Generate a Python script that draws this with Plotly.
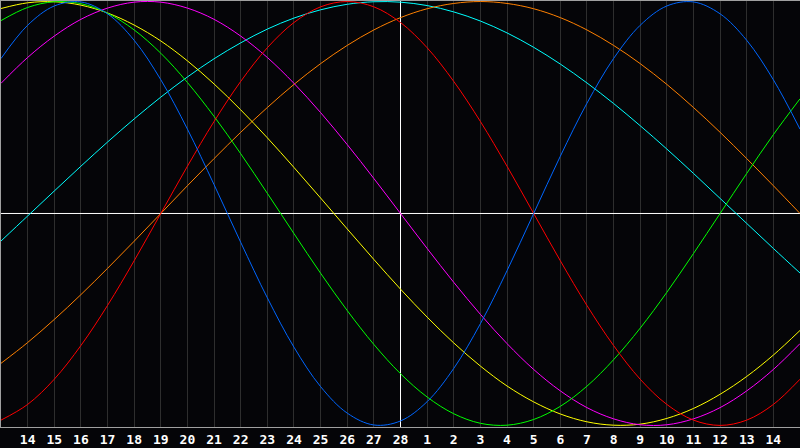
'''
Biorhythm chart: seven cycles over a 30 day window centred on the 28th.
'''
import plotly.graph_objects as go

# Day index 0..30 (0 = the 13th), tick labels for the marked days
days = list(range(31))
tick_days = list(range(1, 30))
tick_labels = ['14', '15', '16', '17', '18', '19', '20', '21', '22', '23',
               '24', '25', '26', '27', '28', '1', '2', '3', '4', '5', '6',
               '7', '8', '9', '10', '11', '12', '13', '14']
today = 15

# Cycle values, one per day
physical = [0.731, 0.888, 0.979, 0.998, 0.942, 0.817, 0.631, 0.398, 0.136,
            -0.136, -0.398, -0.631, -0.817, -0.942, -0.998, -0.979, -0.888,
            -0.731, -0.520, -0.270, 0.0, 0.270, 0.520, 0.731, 0.888, 0.979,
            0.998, 0.942, 0.817, 0.631, 0.398]
emotional = [-0.975, -0.901, -0.782, -0.623, -0.434, -0.223, 0.0, 0.223,
             0.434, 0.623, 0.782, 0.901, 0.975, 1.0, 0.975, 0.901, 0.782,
             0.623, 0.434, 0.223, 0.0, -0.223, -0.434, -0.623, -0.782,
             -0.901, -0.975, -1.0, -0.975, -0.901, -0.782]
intellectual = [0.910, 0.972, 0.999, 0.990, 0.945, 0.866, 0.756, 0.618,
                0.458, 0.282, 0.095, -0.095, -0.282, -0.458, -0.618, -0.756,
                -0.866, -0.945, -0.990, -0.999, -0.972, -0.910, -0.815,
                -0.690, -0.541, -0.372, -0.189, 0.0, 0.189, 0.372, 0.541]
intuitive = [0.614, 0.736, 0.837, 0.916, 0.969, 0.997, 0.997, 0.969, 0.916,
             0.837, 0.736, 0.614, 0.476, 0.325, 0.165, 0.0, -0.165, -0.325,
             -0.476, -0.614, -0.736, -0.837, -0.916, -0.969, -0.997, -0.997,
             -0.969, -0.916, -0.837, -0.736, -0.614]
aesthetic = [0.967, 0.994, 0.999, 0.983, 0.946, 0.889, 0.814, 0.720, 0.611,
             0.489, 0.357, 0.217, 0.073, -0.073, -0.217, -0.357, -0.489,
             -0.611, -0.720, -0.814, -0.889, -0.946, -0.983, -0.999, -0.994,
             -0.967, -0.920, -0.853, -0.769, -0.668, -0.552]
awareness = [-0.707, -0.609, -0.5, -0.383, -0.259, -0.131, 0.0, 0.131, 0.259,
             0.383, 0.5, 0.609, 0.707, 0.793, 0.866, 0.924, 0.966, 0.991, 1.0,
             0.991, 0.966, 0.924, 0.866, 0.793, 0.707, 0.609, 0.5, 0.383,
             0.259, 0.131, 0.0]
spiritual = [-0.130, -0.012, 0.106, 0.223, 0.337, 0.446, 0.549, 0.644, 0.730,
             0.805, 0.870, 0.922, 0.961, 0.987, 0.999, 0.997, 0.981, 0.951,
             0.908, 0.852, 0.784, 0.705, 0.616, 0.519, 0.414, 0.304, 0.189,
             0.071, -0.047, -0.165, -0.281]

series = [
    ('Spiritual', spiritual, '#00ffff'),
    ('Awareness', awareness, '#ff8000'),
    ('Aesthetic', aesthetic, '#ffff00'),
    ('Intuitive', intuitive, '#ff00ff'),
    ('Intellectual', intellectual, '#00ff00'),
    ('Emotional', emotional, '#ff0000'),
    ('Physical', physical, '#0066ff'),
]

y_range = [-1.0075, 1.0025]

fig = go.Figure()

# White cross-hair: zero line and today's marker (drawn first, under curves)
fig.add_trace(go.Scatter(
    x=[today, today], y=y_range, mode='lines',
    line=dict(color='white', width=1), hoverinfo='skip'
))
fig.add_trace(go.Scatter(
    x=[0, 30], y=[0, 0], mode='lines',
    line=dict(color='white', width=1), hoverinfo='skip'
))

for name, values, color in series:
    fig.add_trace(go.Scatter(
        x=days, y=values, name=name, mode='lines',
        line=dict(color=color, width=1, shape='spline', smoothing=1),
        hoverinfo='skip'
    ))

fig.update_layout(
    width=800, height=448,
    margin=dict(l=1, r=0, t=1, b=21),
    paper_bgcolor='#050508',
    plot_bgcolor='#050508',
    showlegend=False,
    xaxis=dict(
        range=[0, 30],
        tickvals=tick_days,
        ticktext=tick_labels,
        ticks='',
        showgrid=True,
        gridcolor='#2e2e2e',
        gridwidth=1,
        zeroline=False,
        showline=True,
        linecolor='#a0a0a0',
        linewidth=1,
        mirror=True,
        tickfont=dict(family='DejaVu Sans Mono', size=13, color='white',
                      weight='bold'),
    ),
    yaxis=dict(
        range=y_range,
        showticklabels=False,
        showgrid=False,
        zeroline=False,
        showline=True,
        linecolor='#a0a0a0',
        linewidth=1,
        ticks='',
    ),
)

# Drop the page's default body margin so the chart fills the window
fig.write_html('out.html', config={'displayModeBar': False},
               post_script="document.body.style.margin='0';")
